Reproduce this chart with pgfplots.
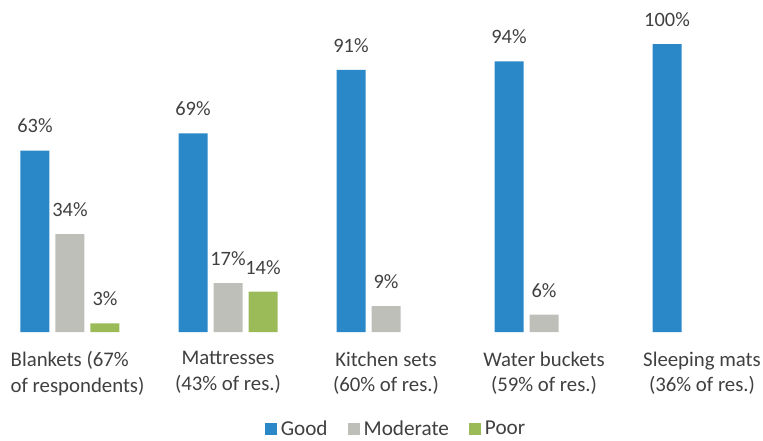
\documentclass[border=0pt]{standalone}
\usepackage{pgfplots}
\pgfplotsset{compat=1.18}
\usepackage{calc}
\usepackage{fontspec}
\setmainfont{Carlito}
\definecolor{cgood}{HTML}{2A88C8}
\definecolor{cmod}{HTML}{BFBFBA}
\definecolor{cpoor}{HTML}{9BBB59}
\definecolor{ctext}{HTML}{404040}
\begin{document}
\begin{tikzpicture}
\useasboundingbox (0pt,0pt) rectangle (381.5pt,220pt);
\begin{axis}[
  at={(0pt,54pt)}, anchor=south west,
  scale only axis, width=381.5pt, height=144pt,
  xmin=-0.443, xmax=4.386, ymin=0, ymax=100,
  ybar, bar width=14.5pt,
  clip=false,
  axis line style={draw=none},
  tick style={draw=none},
  ytick=\empty,
  xtick={0.048,1,2,3,4},
  xticklabels={{\makebox[\widthof{of respondents)}][l]{Blankets (67\%}\\of respondents)},{Mattresses\\(43\% of res.)},{Kitchen sets\\(60\% of res.)},{Water buckets\\(59\% of res.)},{Sleeping mats\\(36\% of res.)}},
  xticklabel style={align=center, font=\fontsize{10.4}{12.6}\selectfont, text=ctext, yshift=-2pt},
  /pgf/number format/assume math mode=true,
  nodes near coords={\pgfmathprintnumber{\pgfplotspointmeta}\%},
  every node near coord/.append style={font=\fontsize{10.2}{12}\selectfont, text=ctext, inner sep=0pt, anchor=south, yshift=8.5pt},
  legend style={at={(rel axis cs:0.5203,-0.338)}, anchor=center, draw=none, fill=none,
    legend columns=-1, font=\fontsize{10.6}{12}\selectfont, text=ctext, inner sep=1pt,
    /tikz/every even column/.append style={column sep=8pt}},
  legend image code/.code={\fill[#1,draw=none] (0pt,-3pt) rectangle (6pt,3pt);},
]
\addplot[fill=cgood, draw=none, bar shift=-17.5pt] coordinates {(0,63) (1,69) (2,91) (3,94) (4,100)};
\addplot[fill=cmod, draw=none, bar shift=0pt] coordinates {(0,34) (1,17) (2,9) (3,6)};
\addplot[fill=cpoor, draw=none, bar shift=17.5pt] coordinates {(0,3) (1,14)};
\legend{Good,Moderate,Poor}
\end{axis}
\end{tikzpicture}
\end{document}
